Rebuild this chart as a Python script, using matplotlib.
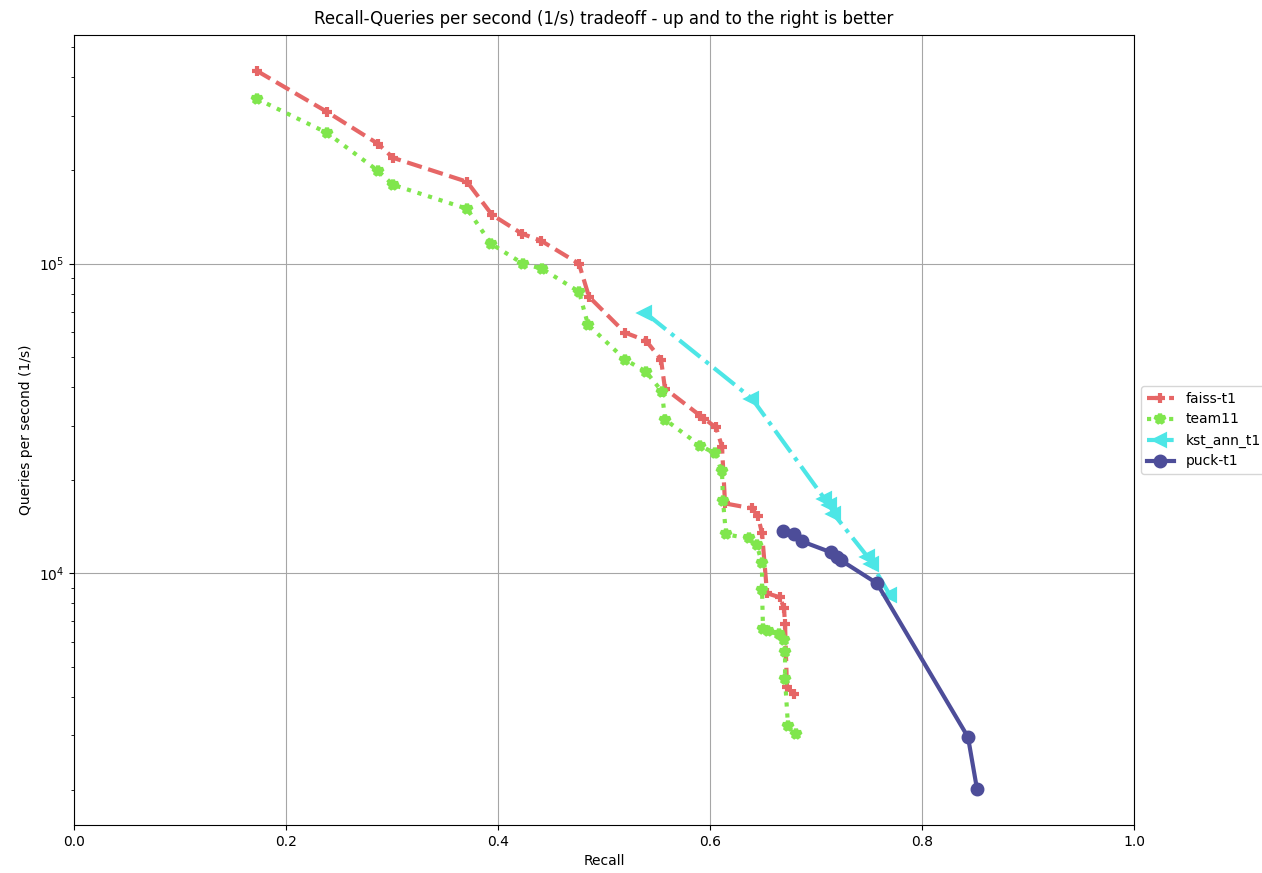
import matplotlib
matplotlib.use("Agg")
import matplotlib.pyplot as plt

# recall / qps
faiss_recall = [0.1726, 0.2387, 0.2868, 0.3009, 0.3708, 0.3943, 0.4226, 0.4406, 0.4764, 0.4858,
                0.5198, 0.5396, 0.5538, 0.5575, 0.5906, 0.5943, 0.6057, 0.6113, 0.6142, 0.6396,
                0.6453, 0.6491, 0.6538, 0.6660, 0.6698, 0.6708, 0.6726, 0.6792]
faiss_qps = [419400, 309300, 243900, 219800, 183900, 143900, 124990, 118650, 100000, 78250,
             59900, 56440, 49020, 39530, 32340, 31620, 29580, 25680, 16820, 16210,
             15270, 13460, 8620, 8367, 7713, 6846, 4290, 4071]

team11_recall = [0.1726, 0.2387, 0.2868, 0.3009, 0.3708, 0.3934, 0.4236, 0.4415, 0.4764, 0.4849,
                 0.5198, 0.5396, 0.5547, 0.5575, 0.5906, 0.6047, 0.6113, 0.6123, 0.6151, 0.6368,
                 0.6443, 0.6491, 0.6491, 0.6500, 0.6547, 0.6651, 0.6698, 0.6708, 0.6708, 0.6736,
                 0.6811]
team11_qps = [340700, 264600, 199500, 179800, 150440, 116000, 100000, 96360, 81200, 63570,
              49020, 44830, 38650, 31390, 25870, 24390, 21330, 17070, 13360, 12970,
              12310, 10770, 8815, 6597, 6500, 6357, 6080, 5563, 4551, 3210,
              3024]

kst_recall = [0.5387, 0.6396, 0.7085, 0.7132, 0.7170, 0.7491, 0.7528, 0.7698]
kst_qps = [69490, 36680, 17330, 16570, 15500, 11260, 10690, 8492]

puck_recall = [0.6689, 0.6792, 0.6868, 0.7142, 0.7198, 0.7236, 0.7575, 0.8434, 0.8519]
puck_qps = [13660, 13360, 12680, 11690, 11260, 11010, 9285, 2958, 2010]

fig = plt.figure(figsize=(12.62, 8.73), dpi=100)
ax = fig.add_axes([74 / 1262, 48 / 873, 1060 / 1262, 790 / 873])

ax.plot(faiss_recall, faiss_qps, label="faiss-t1", color=(0.9, 0.4, 0.4),
        ms=7, mew=3, lw=3, linestyle="--", marker="+")
ax.plot(team11_recall, team11_qps, label="team11", color=(0.5, 0.9, 0.3),
        ms=7, mew=3, lw=3, linestyle=":", marker="*")
ax.plot(kst_recall, kst_qps, label="kst_ann_t1", color=(0.3, 0.9, 0.9),
        ms=7, mew=3, lw=3, linestyle="-.", marker="<")
ax.plot(puck_recall, puck_qps, label="puck-t1", color=(0.3, 0.3, 0.6),
        ms=7, mew=3, lw=3, linestyle="-", marker="o")

ax.set_yscale("log")
ax.set_xlim(0.0, 1.0)
ax.set_xlabel("Recall")
ax.set_ylabel("Queries per second (1/s)")
ax.set_title("Recall-Queries per second (1/s) tradeoff - up and to the right is better", pad=8)
ax.legend(loc="center left", bbox_to_anchor=(1, 0.5), prop={"size": 10})
ax.grid(True, which="major", color="0.65", linestyle="-")

fig.savefig("out.png", dpi=100)
